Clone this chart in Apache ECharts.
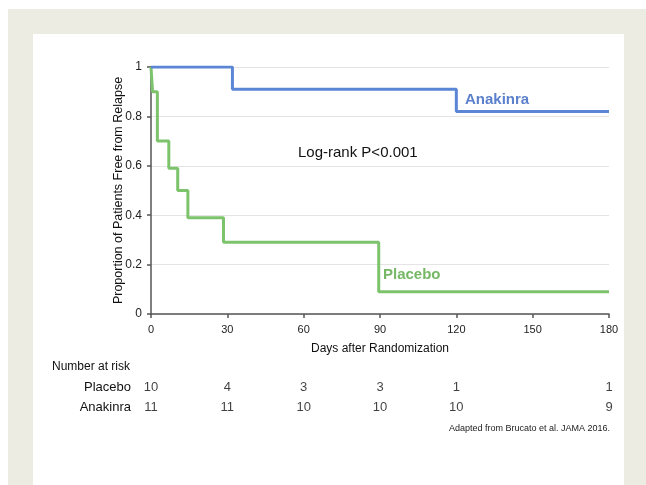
<!DOCTYPE html>
<html>
<head>
<meta charset="utf-8">
<script src="https://cdn.jsdelivr.net/npm/echarts@6/dist/echarts.min.js"></script>
<style>
html,body{margin:0;padding:0;background:#fff;}
#c{width:646px;height:485px;}
</style>
</head>
<body>
<div id="c"></div>
<script>
// Kaplan-Meier step points [day, proportion]
const anakinraCurve = [[0, 1], [32, 0.91], [120, 0.82], [180, 0.82]];
const placeboCurve = [[0, 1], [0.6, 0.9], [2.5, 0.7], [7, 0.59], [10.5, 0.5], [14.5, 0.39], [28.5, 0.29], [89.5, 0.09], [180, 0.09]];

// Number at risk table
const riskDays = [0, 30, 60, 90, 120, 180];
const placeboRisk = [10, 4, 3, 3, 1, 1];
const anakinraRisk = [11, 11, 10, 10, 10, 9];
const riskGroups = ['Anakinra', 'Placebo'];

const FONT = 'Liberation Sans, Arial, Helvetica, sans-serif';
const BLUE = '#5b86d6';
const GREEN = '#7cc36c';

const chart = echarts.init(document.getElementById('c'), null, {renderer: 'canvas'});

const riskData = [];
riskDays.forEach((d, i) => {
  riskData.push([d, 'Placebo', placeboRisk[i]]);
  riskData.push([d, 'Anakinra', anakinraRisk[i]]);
});

const option = {
  animation: false,
  backgroundColor: '#ffffff',
  textStyle: {fontFamily: FONT},
  graphic: [
    {type: 'rect', z: -10, silent: true, shape: {x: 8, y: 9, width: 638, height: 476}, style: {fill: '#edece2'}},
    {type: 'rect', z: -9, silent: true, shape: {x: 33, y: 34, width: 591, height: 451}, style: {fill: '#ffffff'}},
    {type: 'text', left: 465, top: 92, z: 10, style: {text: 'Anakinra', font: 'bold 15px ' + FONT, fill: '#5b80cc'}},
    {type: 'text', left: 383, top: 267, z: 10, style: {text: 'Placebo', font: 'bold 15px ' + FONT, fill: '#76b866'}},
    {type: 'text', left: 298, top: 145, z: 10, style: {text: 'Log-rank P<0.001', font: '15px ' + FONT, fill: '#111'}},
    {type: 'text', left: 52, top: 361, z: 10, style: {text: 'Number at risk', font: '12px ' + FONT, fill: '#111'}},
    {type: 'text', right: 36, top: 424, z: 10, style: {text: 'Adapted from Brucato et al. JAMA 2016.', font: '9px ' + FONT, fill: '#222'}}
  ],
  grid: [
    {left: 151, top: 67, width: 458, height: 247, containLabel: false},
    {left: 151, top: 377, width: 458, height: 40, containLabel: false}
  ],
  xAxis: [
    {
      gridIndex: 0, type: 'value', min: 0, max: 180, interval: 30,
      name: 'Days after Randomization', nameLocation: 'middle', nameGap: 29,
      nameMoveOverlap: false,
      nameTextStyle: {fontSize: 12, color: '#111', fontFamily: FONT},
      axisLine: {show: true, lineStyle: {color: '#555', width: 1.5}},
      axisTick: {show: true, length: 4, lineStyle: {color: '#555', width: 1.5}},
      axisLabel: {fontSize: 11, color: '#222', margin: 10, fontFamily: FONT},
      splitLine: {show: false}
    },
    {
      gridIndex: 1, type: 'value', min: 0, max: 180, interval: 30, show: false
    }
  ],
  yAxis: [
    {
      gridIndex: 0, type: 'value', min: 0, max: 1, interval: 0.2,
      name: 'Proportion of Patients Free from Relapse', nameLocation: 'middle', nameGap: 26,
      nameMoveOverlap: false,
      nameTextStyle: {fontSize: 12.5, color: '#111', fontFamily: FONT},
      axisLine: {show: true, lineStyle: {color: '#555', width: 1.5}},
      axisTick: {show: true, length: 4, lineStyle: {color: '#555', width: 1.5}},
      axisLabel: {fontSize: 12, color: '#222', margin: 9, fontFamily: FONT,
        formatter: v => String(+v.toFixed(1))},
      splitLine: {show: true, lineStyle: {color: '#e4e4e4', width: 1}}
    },
    {
      gridIndex: 1, type: 'category', data: riskGroups,
      axisLine: {show: false}, axisTick: {show: false}, splitLine: {show: false},
      axisLabel: {fontSize: 13, color: '#111', margin: 20, fontFamily: FONT}
    }
  ],
  series: [
    {
      name: 'Anakinra', type: 'line', step: 'end', xAxisIndex: 0, yAxisIndex: 0,
      data: anakinraCurve, showSymbol: false, symbol: 'none',
      lineStyle: {color: BLUE, width: 3}, z: 5
    },
    {
      name: 'Placebo', type: 'line', step: 'end', xAxisIndex: 0, yAxisIndex: 0,
      data: placeboCurve, showSymbol: false, symbol: 'none',
      lineStyle: {color: GREEN, width: 3}, z: 4
    },
    {
      name: 'risk', type: 'scatter', xAxisIndex: 1, yAxisIndex: 1,
      data: riskData, symbolSize: 0, clip: false,
      label: {show: true, position: 'inside', formatter: p => String(p.value[2]),
        fontSize: 13, color: '#111', fontFamily: FONT}
    }
  ]
};
chart.setOption(option);
</script>
</body>
</html>
